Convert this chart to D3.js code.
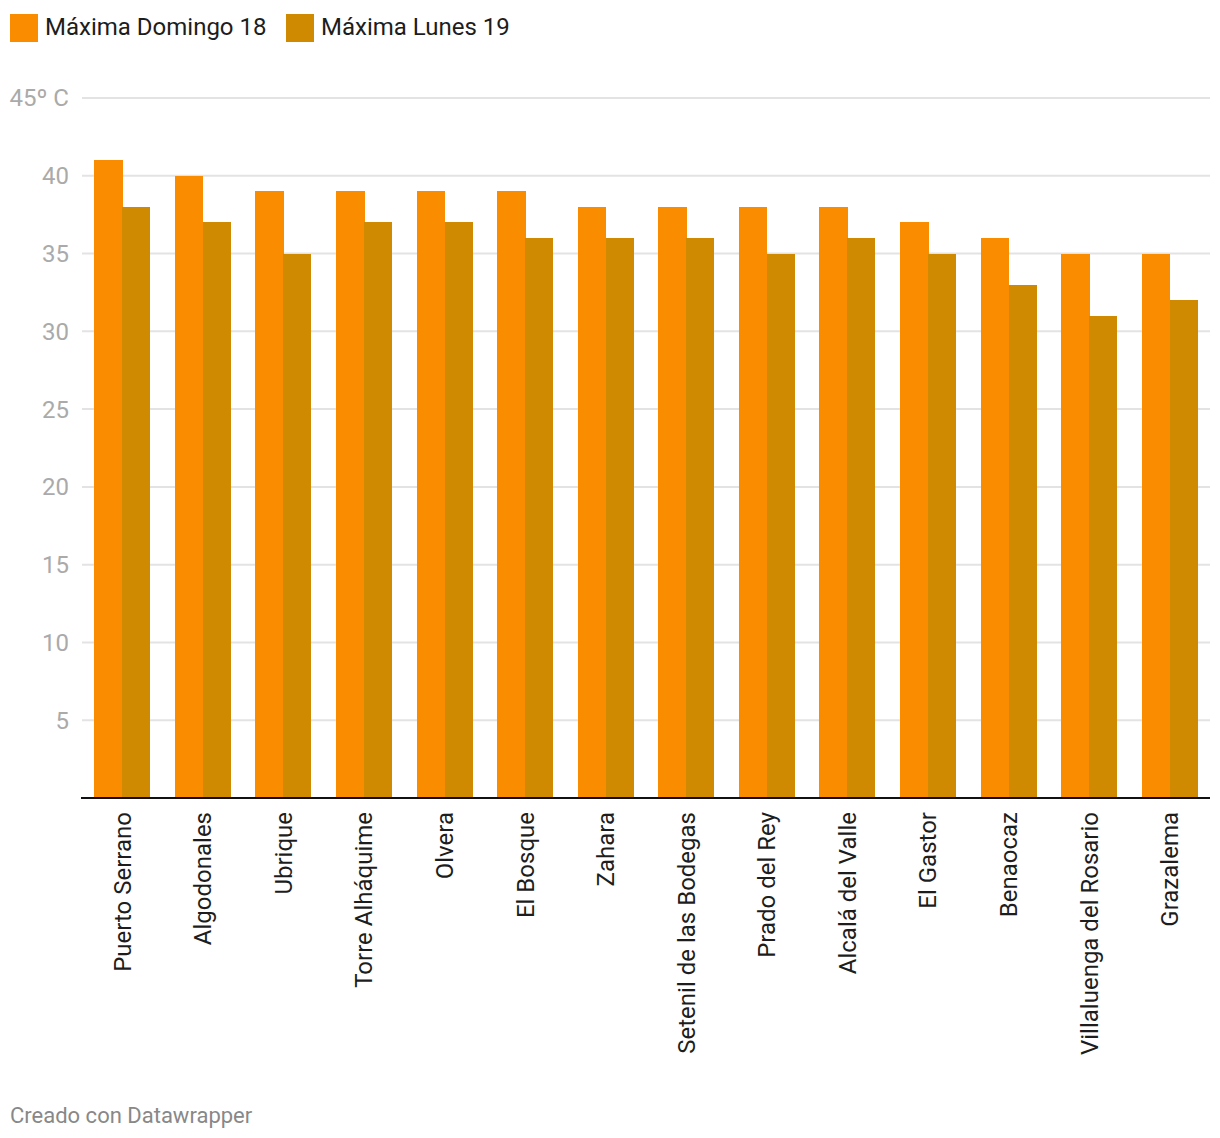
<!DOCTYPE html>
<html><head><meta charset="utf-8">
<script src="https://cdn.jsdelivr.net/npm/d3@7"></script>
<style>body{margin:0;background:#fff;font-family:Roboto,sans-serif;}</style>
</head><body>
<svg id="c" width="1220" height="1138"></svg>
<script>
const categories = ["Puerto Serrano","Algodonales","Ubrique","Torre Alháquime","Olvera","El Bosque","Zahara","Setenil de las Bodegas","Prado del Rey","Alcalá del Valle","El Gastor","Benaocaz","Villaluenga del Rosario","Grazalema"];
const domingo = [41,40,39,39,39,39,38,38,38,38,37,36,35,35];
const lunes = [38,37,35,37,37,36,36,36,35,36,35,33,31,32];
const seriesNames = ["Máxima Domingo 18","Máxima Lunes 19"];
const colors = ["#FA8C00","#D08A02"];
const tickValues = [5,10,15,20,25,30,35,40,45];
const tickLabels = ["5","10","15","20","25","30","35","40","45º C"];

const svg = d3.select("#c");
const x0 = d3.scaleBand().domain(categories).range([82,1210]).paddingInner(0.305).paddingOuter(0.1525);
const x1 = d3.scaleBand().domain([0,1]).range([0,x0.bandwidth()]);
const y = d3.scaleLinear().domain([0,45]).range([798,98]);

svg.append("g").selectAll("line").data(tickValues).join("line")
  .attr("x1",82).attr("x2",1210).attr("y1",d=>y(d)).attr("y2",d=>y(d))
  .attr("stroke","#e3e3e3").attr("stroke-width",2);
svg.append("g").selectAll("text").data(tickValues).join("text")
  .attr("x",69).attr("y",d=>y(d)).attr("dy","0.35em").attr("text-anchor","end")
  .attr("font-size",24).attr("fill","#aaaaaa").text((d,i)=>tickLabels[i]);

const series=[domingo,lunes];
const g = svg.append("g").attr("shape-rendering","crispEdges");
categories.forEach((c,i)=>{
  series.forEach((s,j)=>{
    g.append("rect").attr("x",x0(c)+x1(j)).attr("width",x1.bandwidth()+(j===0?0.5:0))
     .attr("y",y(s[i])).attr("height",y(0)-y(s[i])).attr("fill",colors[j]);
  });
});
svg.append("line").attr("x1",81).attr("x2",1210).attr("y1",y(0)).attr("y2",y(0))
  .attr("stroke","#111").attr("stroke-width",2);

svg.append("g").selectAll("text").data(categories).join("text")
  .attr("transform",d=>`translate(${x0(d)+x0.bandwidth()/2},812) rotate(-90)`)
  .attr("text-anchor","end").attr("dy","0.35em").attr("font-size",24).attr("fill","#1d1d1d")
  .text(d=>d);

const legX=[10,286];
seriesNames.forEach((n,i)=>{
  svg.append("rect").attr("x",legX[i]).attr("y",14).attr("width",28).attr("height",28).attr("fill",colors[i]);
  svg.append("text").attr("x",legX[i]+35).attr("y",27).attr("dy","0.35em").attr("font-size",24).attr("fill","#1d1d1d").text(n);
});
svg.append("text").attr("x",10).attr("y",1115).attr("dy","0.35em").attr("font-size",22).attr("fill","#888").text("Creado con Datawrapper");
</script>
</body></html>
